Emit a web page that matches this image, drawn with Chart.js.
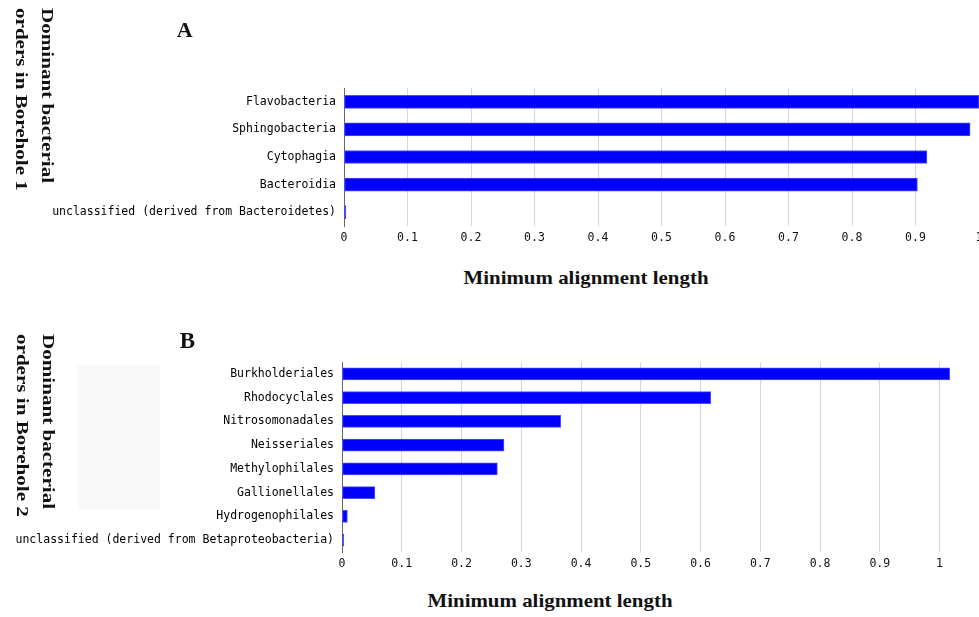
<!DOCTYPE html>
<html>
<head>
<meta charset="utf-8">
<script src="https://cdn.jsdelivr.net/npm/chart.js@4"></script>
<style>
  html, body { margin: 0; padding: 0; background: #ffffff; }
  #page { position: relative; width: 979px; height: 617px; overflow: hidden; background: #ffffff; }
  canvas { position: absolute; left: 0; }
  .serif { position: absolute; font-family: "Liberation Serif", "Times New Roman", serif; font-weight: bold; color: #111; white-space: nowrap; line-height: 0; }
  .side { position: absolute; left: 0; top: 0; font-family: "Liberation Serif", "Times New Roman", serif; font-weight: bold; font-size: 17px; line-height: 26px; color: #111; white-space: nowrap; transform-origin: 0 0; }
  .shade { position: absolute; left: 78px; top: 365px; width: 82px; height: 145px; background: #f9f9f9; }
</style>
</head>
<body>
<div id="page">
  <div class="shade"></div>
  <canvas id="chartA" width="979" height="256" style="top:0px"></canvas>
  <canvas id="chartB" width="979" height="282" style="top:300px"></canvas>

  <div class="side" style="transform: translate(60px, 8px) rotate(90deg) scale(1.24, 1);">Dominant bacterial<br>orders in Borehole 1</div>
  <div class="side" style="transform: translate(61px, 334px) rotate(90deg) scale(1.24, 1);">Dominant bacterial<br>orders in Borehole 2</div>

  <div class="serif" style="left:184.7px; top:29.9px; font-size:22px; transform: translateX(-50%);">A</div>
  <div class="serif" style="left:187.5px; top:340.5px; font-size:23px; transform: translateX(-50%);">B</div>

  <div class="serif" style="left:585.5px; top:277.9px; font-size:19px; transform: translateX(-50%) scaleX(1.1);">Minimum alignment length</div>
  <div class="serif" style="left:550px; top:601.2px; font-size:19px; transform: translateX(-50%) scaleX(1.1);">Minimum alignment length</div>
</div>

<script>
// Borehole 1: dominant bacterial orders (Bacteroidetes)
const orders1 = [
  "Flavobacteria",
  "Sphingobacteria",
  "Cytophagia",
  "Bacteroidia",
  "unclassified (derived from Bacteroidetes)"
];
const values1 = [1.0, 0.986, 0.918, 0.903, 0.003];

// Borehole 2: dominant bacterial orders (Betaproteobacteria)
const orders2 = [
  "Burkholderiales",
  "Rhodocyclales",
  "Nitrosomonadales",
  "Neisseriales",
  "Methylophilales",
  "Gallionellales",
  "Hydrogenophilales",
  "unclassified (derived from Betaproteobacteria)"
];
const values2 = [1.017, 0.617, 0.366, 0.271, 0.260, 0.055, 0.009, 0.003];

// x-axis range and tick step for each panel
const xMax1 = 1.0;
const xMax2 = 1.066;
const xStep = 0.1;

const monoFont = { family: "'DejaVu Sans Mono', 'Liberation Mono', monospace", size: 11.5 };

// tick text: "0", "0.1", ... "1"
const tickText = (v) => String(Number(v.toFixed(1)));

function makeChart(canvasId, labels, values, xMax, axisWidth, topPad, barThickness) {
  return new Chart(document.getElementById(canvasId), {
    type: 'bar',
    data: {
      labels: labels,
      datasets: [{
        data: values,
        backgroundColor: '#0000ff',
        borderColor: '#4d4dff',
        borderWidth: 1,
        borderSkipped: false,
        barThickness: barThickness
      }]
    },
    options: {
      indexAxis: 'y',
      responsive: false,
      animation: false,
      devicePixelRatio: 1,
      layout: { padding: { top: topPad, right: 0, bottom: 0, left: 0 } },
      plugins: { legend: { display: false }, tooltip: { enabled: false } },
      scales: {
        x: {
          type: 'linear',
          min: 0,
          max: xMax,
          ticks: {
            stepSize: xStep,
            includeBounds: false,
            color: '#111',
            font: monoFont,
            padding: 5,
            maxRotation: 0,
            callback: tickText
          },
          grid: { color: '#d6d6d6', lineWidth: 1, drawTicks: false },
          border: { display: false },
          afterFit: (scale) => {
            scale.height = 30;
            scale.paddingLeft = 0;
            scale.paddingRight = 0;
          }
        },
        y: {
          ticks: { color: '#000', font: monoFont, padding: 8, autoSkip: false },
          grid: { display: false, drawTicks: false },
          border: { display: true, color: '#666', width: 1 },
          afterFit: (scale) => { scale.width = axisWidth; }
        }
      }
    }
  });
}

makeChart('chartA', orders1, values1, xMax1, 344, 88, 13);
makeChart('chartB', orders2, values2, xMax2, 342, 62, 12);
</script>
</body>
</html>
